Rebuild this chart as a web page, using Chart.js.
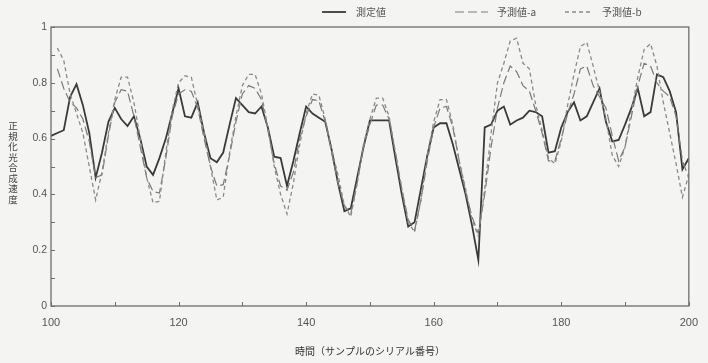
<!DOCTYPE html>
<html>
<head>
<meta charset="utf-8">
<script src="https://cdn.jsdelivr.net/npm/chart.js@4"></script>
<style>
  html, body { margin: 0; padding: 0; background: #f4f4f3; }
  #wrap { width: 708px; height: 363px; }
</style>
</head>
<body>
<div id="wrap"><canvas id="c" width="708" height="363"></canvas></div>
<script>
// sample serial numbers (time axis)
const samples = [
  100,101,102,103,104,105,106,107,108,109,
  110,111,112,113,114,115,116,117,118,119,
  120,121,122,123,124,125,126,127,128,129,
  130,131,132,133,134,135,136,137,138,139,
  140,141,142,143,144,145,146,147,148,149,
  150,151,152,153,154,155,156,157,158,159,
  160,161,162,163,164,165,166,167,168,169,
  170,171,172,173,174,175,176,177,178,179,
  180,181,182,183,184,185,186,187,188,189,
  190,191,192,193,194,195,196,197,198,199,
  200
];

// 測定値
const measured = [
  0.61,0.62,0.63,0.75,0.795,0.72,0.62,0.46,0.55,0.66,
  0.71,0.67,0.645,0.68,0.60,0.50,0.47,0.53,0.60,0.69,
  0.78,0.68,0.675,0.73,0.62,0.53,0.515,0.55,0.65,0.745,
  0.72,0.695,0.69,0.715,0.64,0.535,0.53,0.43,0.52,0.62,
  0.715,0.69,0.675,0.66,0.56,0.44,0.34,0.35,0.46,0.57,
  0.665,0.665,0.665,0.665,0.53,0.40,0.285,0.30,0.42,0.54,
  0.64,0.655,0.655,0.58,0.49,0.40,0.29,0.165,0.64,0.65,
  0.70,0.715,0.65,0.665,0.675,0.70,0.695,0.68,0.55,0.555,
  0.64,0.695,0.73,0.665,0.68,0.73,0.78,0.66,0.59,0.595,
  0.65,0.71,0.78,0.68,0.695,0.83,0.82,0.77,0.695,0.49,
  0.53
];

// 予測値-a
const predictedA = [
  null,0.85,0.78,0.73,0.71,0.67,0.59,0.46,0.47,0.61,
  0.73,0.775,0.77,0.68,0.57,0.46,0.41,0.405,0.53,0.68,
  0.76,0.775,0.77,0.71,0.60,0.50,0.43,0.435,0.54,0.66,
  0.76,0.79,0.78,0.74,0.63,0.51,0.43,0.415,0.48,0.60,
  0.68,0.74,0.735,0.66,0.55,0.44,0.36,0.33,0.44,0.57,
  0.65,0.72,0.72,0.67,0.55,0.42,0.31,0.27,0.38,0.52,
  0.64,0.71,0.715,0.64,0.52,0.41,0.32,0.26,0.40,0.57,
  0.71,0.80,0.86,0.84,0.79,0.77,0.70,0.62,0.52,0.52,
  0.60,0.69,0.76,0.85,0.86,0.79,0.75,0.71,0.61,0.52,
  0.57,0.68,0.79,0.87,0.86,0.80,0.77,0.75,0.68,0.52,
  0.46
];

// 予測値-b
const predictedB = [
  null,0.925,0.88,0.76,0.69,0.62,0.50,0.38,0.48,0.62,
  0.74,0.82,0.82,0.73,0.60,0.46,0.37,0.375,0.55,0.70,
  0.80,0.825,0.82,0.72,0.62,0.50,0.38,0.39,0.55,0.68,
  0.79,0.83,0.83,0.76,0.64,0.50,0.40,0.33,0.44,0.58,
  0.69,0.76,0.755,0.67,0.56,0.47,0.36,0.32,0.44,0.58,
  0.67,0.745,0.745,0.68,0.55,0.42,0.30,0.265,0.38,0.54,
  0.66,0.74,0.74,0.65,0.52,0.42,0.31,0.25,0.42,0.62,
  0.80,0.87,0.95,0.96,0.87,0.85,0.72,0.63,0.53,0.51,
  0.59,0.72,0.83,0.93,0.945,0.86,0.77,0.67,0.54,0.50,
  0.57,0.70,0.82,0.92,0.94,0.86,0.73,0.62,0.51,0.39,
  0.47
];

const seriesNames = ['測定値', '予測値-a', '予測値-b'];
const yTitle = '正規化光合成速度';
const xTitle = '時間（サンプルのシリアル番号）';

const toPoints = vals => samples.map((s, i) => ({ x: s, y: vals[i] }));

const styles = [
  { color: '#3a3a3a', width: 1.8, dash: [] },
  { color: '#7a7a7a', width: 1.2, dash: [9, 4] },
  { color: '#8a8a8a', width: 1.3, dash: [4, 3] }
];

const FONT = '"Liberation Sans", Arial, sans-serif';
const JFONT = '"Noto Sans CJK JP", sans-serif';

// frame, inward ticks, legend and vertical y title
const decorations = {
  id: 'decorations',
  afterDraw(chart) {
    const ctx = chart.ctx;
    const a = chart.chartArea;
    const xs = chart.scales.x, ys = chart.scales.y;
    ctx.save();
    ctx.strokeStyle = '#6e6e6e';
    ctx.lineWidth = 1.3;
    ctx.strokeRect(a.left, a.top, a.right - a.left, a.bottom - a.top);

    ctx.lineWidth = 1;
    ctx.beginPath();
    xs.ticks.forEach(t => {
      const px = Math.round(xs.getPixelForValue(t.value)) + 0.5;
      ctx.moveTo(px, a.bottom);
      ctx.lineTo(px, a.bottom - 4);
    });
    ys.ticks.forEach(t => {
      const py = Math.round(ys.getPixelForValue(t.value)) + 0.5;
      ctx.moveTo(a.left, py);
      ctx.lineTo(a.left + 4, py);
    });
    ctx.stroke();

    // legend
    const items = [
      { x0: 322, x1: 346, tx: 356 },
      { x0: 455, x1: 488, tx: 497 },
      { x0: 565, x1: 593, tx: 602 }
    ];
    const ly = 12;
    items.forEach((it, i) => {
      const st = styles[i];
      ctx.strokeStyle = st.color;
      ctx.lineWidth = st.width;
      ctx.setLineDash(st.dash);
      ctx.beginPath();
      ctx.moveTo(it.x0, ly);
      ctx.lineTo(it.x1, ly);
      ctx.stroke();
      ctx.setLineDash([]);
      ctx.fillStyle = '#555';
      ctx.font = '10px ' + JFONT;
      ctx.textAlign = 'left';
      ctx.textBaseline = 'middle';
      ctx.fillText(seriesNames[i], it.tx, ly);
    });

    // y title written vertically, upright characters
    ctx.fillStyle = '#444';
    ctx.font = '9.5px ' + JFONT;
    ctx.textAlign = 'center';
    ctx.textBaseline = 'middle';
    const chars = Array.from(yTitle);
    const step = 10.5;
    const cy = (a.top + a.bottom) / 2 - 4;
    const y0 = cy - (chars.length - 1) * step / 2;
    chars.forEach((ch, i) => ctx.fillText(ch, 13, y0 + i * step));
    ctx.restore();
  }
};

new Chart(document.getElementById('c'), {
  type: 'line',
  data: {
    datasets: [measured, predictedA, predictedB].map((vals, i) => ({
      label: seriesNames[i],
      data: toPoints(vals),
      borderColor: styles[i].color,
      borderWidth: styles[i].width,
      borderDash: styles[i].dash,
      pointRadius: 0,
      tension: 0,
      fill: false,
      spanGaps: false,
      order: 3 - i
    }))
  },
  options: {
    responsive: false,
    animation: false,
    events: [],
    layout: { padding: { left: 0, right: 11, top: 27, bottom: 0 } },
    plugins: { legend: { display: false }, tooltip: { enabled: false } },
    scales: {
      x: {
        type: 'linear',
        min: 100, max: 200,
        afterFit(s) { s.height = 57; },
        grid: { display: false, drawTicks: false },
        border: { display: false },
        ticks: {
          stepSize: 10,
          autoSkip: false,
          maxRotation: 0,
          padding: 10,
          color: '#555',
          font: { family: FONT, size: 11 },
          callback: v => (Math.round(v) % 20 === 0 ? String(Math.round(v)) : '')
        },
        title: {
          display: true,
          text: xTitle,
          color: '#333',
          font: { family: JFONT, size: 10 },
          padding: { top: 0, bottom: 6 }
        }
      },
      y: {
        min: 0, max: 1,
        afterFit(s) { s.width = 51; },
        grid: { display: false, drawTicks: false },
        border: { display: false },
        ticks: {
          stepSize: 0.1,
          autoSkip: false,
          padding: 4,
          color: '#555',
          font: { family: FONT, size: 10.5 },
          callback: v => {
            const k = Math.round(v * 10);
            if (k % 2 !== 0) return '';
            if (k === 0) return '0';
            if (k === 10) return '1';
            return '0.' + k;
          }
        }
      }
    }
  },
  plugins: [decorations]
});
</script>
</body>
</html>
